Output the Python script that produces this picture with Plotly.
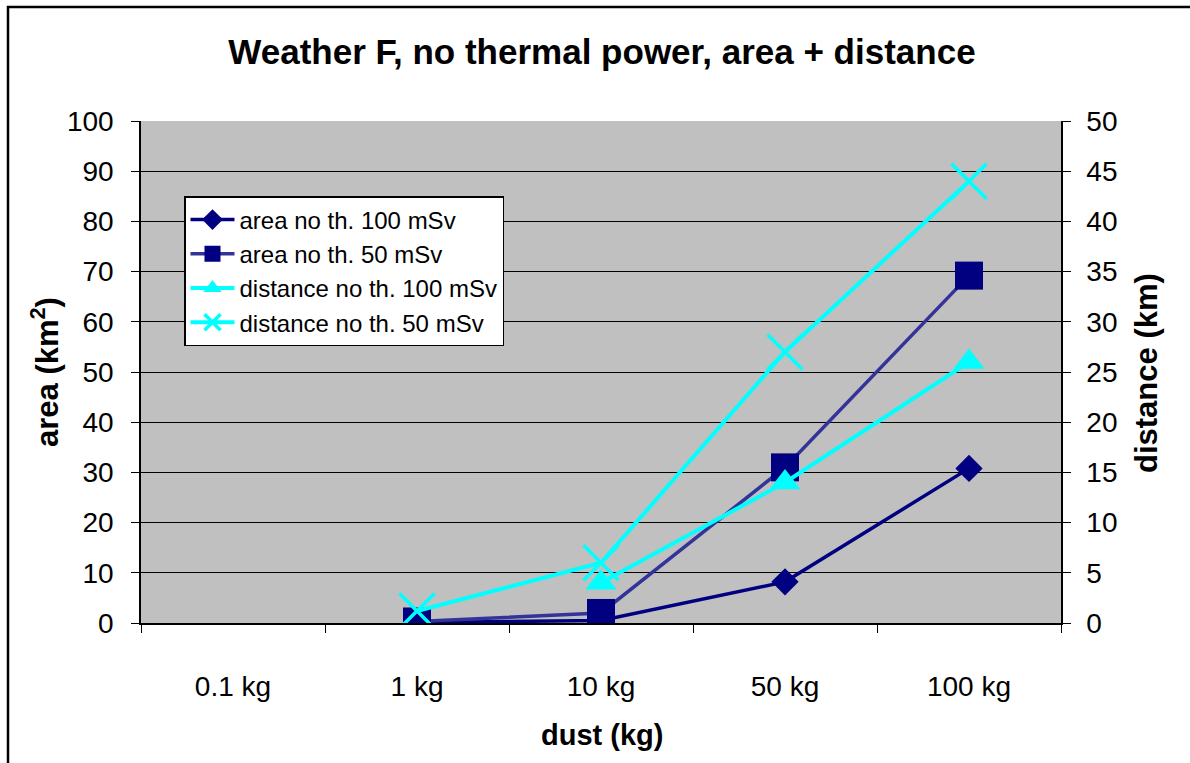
import plotly.graph_objects as go

categories = ["0.1 kg", "1 kg", "10 kg", "50 kg", "100 kg"]
area_100 = [None, 0.1, 0.5, 8.2, 30.8]
area_50 = [None, 0.3, 2.0, 31.0, 69.2]
dist_100 = [None, None, 4.0, 14.0, 26.0]
dist_50 = [None, 1.2, 6.0, 27.0, 44.0]

FONT = "Liberation Sans, Arial, sans-serif"

fig = go.Figure()
fig.add_trace(go.Scatter(x=categories, y=area_100, name="area no th. 100 mSv",
                         mode="lines+markers", line=dict(color="#000080", width=3.5),
                         marker=dict(symbol="diamond", size=21, color="#000080"),
                         yaxis="y"))
fig.add_trace(go.Scatter(x=categories, y=area_50, name="area no th. 50 mSv",
                         mode="lines+markers", line=dict(color="#333399", width=3.5),
                         marker=dict(symbol="square", size=28, color="#000080"),
                         yaxis="y"))
fig.add_trace(go.Scatter(x=categories, y=dist_100, name="distance no th. 100 mSv",
                         mode="lines+markers", line=dict(color="#00FFFF", width=4),
                         marker=dict(symbol="triangle-up", size=27, color="#00FFFF"),
                         yaxis="y2"))
fig.add_trace(go.Scatter(x=categories, y=dist_50, name="distance no th. 50 mSv",
                         mode="lines+markers", line=dict(color="#00FFFF", width=4),
                         marker=dict(symbol="x-thin", size=35, color="#00FFFF",
                                     line=dict(color="#00FFFF", width=3.5)),
                         yaxis="y2"))

W, H = 1190, 763
L, R, T, B = 141, 1061, 121, 623
pw, ph = R - L, B - T


def px(x):
    return (x - L) / pw


def py(y):
    return (B - y) / ph


fig.update_layout(
    width=W, height=H,
    margin=dict(l=L, r=W - R, t=T, b=H - B),
    paper_bgcolor="white",
    plot_bgcolor="#C0C0C0",
    font=dict(family=FONT, color="black", size=28),
    title=dict(text="<b>Weather F, no thermal power, area + distance</b>",
               x=px(602), xref="paper", xanchor="center",
               y=1 - 52 / H, yref="container", yanchor="middle",
               font=dict(size=35, family=FONT, color="black")),
    xaxis=dict(type="category", categoryorder="array", categoryarray=categories,
               range=[-0.5, 4.5], showgrid=False, zeroline=False,
               showline=True, linecolor="black", linewidth=1.5,
               ticks="outside", tickson="boundaries", ticklen=8, tickcolor="black",
               ticklabelstandoff=38, tickfont=dict(size=28)),
    yaxis=dict(range=[0, 100], dtick=10, showgrid=True, gridcolor="black", gridwidth=1,
               zeroline=False, showline=True, linecolor="black", linewidth=1.5,
               ticks="outside", ticklen=8, tickcolor="black", ticklabelstandoff=12,
               tickfont=dict(size=28)),
    yaxis2=dict(range=[0, 50], dtick=5, overlaying="y", side="right", showgrid=False,
                zeroline=False, showline=True, linecolor="black", linewidth=1.5,
                ticks="outside", ticklen=8, tickcolor="black", ticklabelstandoff=10,
                tickfont=dict(size=28)),
    legend=dict(x=px(184), y=py(196), xanchor="left", yanchor="top",
                bgcolor="white", bordercolor="black", borderwidth=1.5,
                font=dict(size=24, family=FONT, color="black"),
                tracegroupgap=0, itemsizing="trace", itemwidth=44),
    showlegend=True,
)

fig.add_annotation(text="<b>area (km<sup>2</sup>)</b>", textangle=-90,
                   x=px(45), y=py(372), xref="paper", yref="paper",
                   showarrow=False, font=dict(size=31, family=FONT),
                   xanchor="center", yanchor="middle")
fig.add_annotation(text="<b>distance (km)</b>", textangle=-90,
                   x=px(1146), y=py(373), xref="paper", yref="paper",
                   showarrow=False, font=dict(size=31, family=FONT),
                   xanchor="center", yanchor="middle")
fig.add_annotation(text="<b>dust (kg)</b>",
                   x=px(602), y=py(735), xref="paper", yref="paper",
                   showarrow=False, font=dict(size=29, family=FONT),
                   xanchor="center", yanchor="middle")

# outer chart border
fig.add_shape(type="rect", xref="paper", yref="paper",
              x0=px(8), x1=px(1195), y0=py(770), y1=py(7),
              line=dict(color="black", width=2.5), fillcolor="rgba(0,0,0,0)",
              layer="below")

fig.write_html("out.html")
